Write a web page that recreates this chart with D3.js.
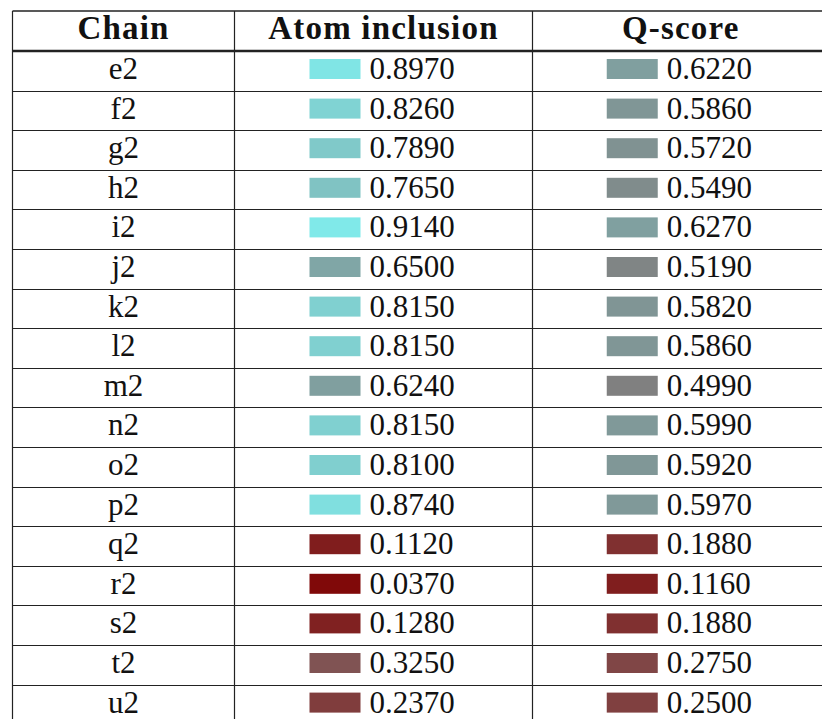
<!DOCTYPE html>
<html>
<head>
<meta charset="utf-8">
<script src="https://cdn.jsdelivr.net/npm/d3@7"></script>
<style>
  html, body { margin: 0; padding: 0; background: #fff; overflow: hidden; }
  svg text { font-family: "Liberation Serif", "DejaVu Serif", serif; fill: #111; }
</style>
</head>
<body>
<div id="chart"></div>
<script>
const chains = ["e2", "f2", "g2", "h2", "i2", "j2", "k2", "l2", "m2", "n2", "o2", "p2", "q2", "r2", "s2", "t2", "u2"];
const atomInclusion = [0.897, 0.826, 0.789, 0.765, 0.914, 0.650, 0.815, 0.815, 0.624, 0.815, 0.810, 0.874, 0.112, 0.037, 0.128, 0.325, 0.237];
const qScore = [0.622, 0.586, 0.572, 0.549, 0.627, 0.519, 0.582, 0.586, 0.499, 0.599, 0.592, 0.597, 0.188, 0.116, 0.188, 0.275, 0.250];
const headers = ["Chain", "Atom inclusion", "Q-score"];

const width = 822, height = 719;
const rowH = 39.6;
const headTop = 11, headBottom = 51;
const colEdges = [12.5, 234.5, 532.5, 829];

const rows = chains.map((c, i) => ({ chain: c, atom: atomInclusion[i], q: qScore[i] }));

const svg = d3.select("#chart").append("svg")
    .attr("width", width)
    .attr("height", height);

// rows
const y = d3.scaleBand()
    .domain(chains)
    .range([headBottom, headBottom + chains.length * rowH])
    .padding(0);

// column centres
const colX = d3.scaleOrdinal()
    .domain(headers)
    .range(headers.map((h, i) => (colEdges[i] + colEdges[i + 1]) / 2));

// maroon -> grey -> cyan
const color = d3.scaleLinear()
    .domain([0, 0.5, 1])
    .range(["#800000", "#808080", "#80ffff"]);

// header labels
svg.selectAll(".head")
    .data(headers)
    .enter()
    .append("text")
    .attr("class", "head")
    .attr("x", d => colX(d))
    .attr("y", 39)
    .attr("text-anchor", "middle")
    .style("font-size", "33px")
    .style("font-weight", "bold")
    .style("letter-spacing", "1.2px")
    .text(d => d);

// chain names
svg.selectAll(".chain")
    .data(rows)
    .enter()
    .append("text")
    .attr("class", "chain")
    .attr("x", colX("Chain"))
    .attr("y", d => y(d.chain) + 28)
    .attr("text-anchor", "middle")
    .style("font-size", "31px")
    .text(d => d.chain);

// swatch + value cells
const swW = 51, swH = 20, gap = 9;
[["Atom inclusion", "atom"], ["Q-score", "q"]].forEach(([col, key]) => {
    const left = colX(col) - 74;
    const g = svg.append("g");
    g.selectAll("rect")
        .data(rows)
        .enter()
        .append("rect")
        .attr("x", left)
        .attr("y", d => y(d.chain) + 28 - swH)
        .attr("width", swW)
        .attr("height", swH)
        .attr("fill", d => color(d[key]));
    g.selectAll("text")
        .data(rows)
        .enter()
        .append("text")
        .attr("x", left + swW + gap)
        .attr("y", d => y(d.chain) + 28)
        .style("font-size", "31px")
        .text(d => d[key].toFixed(4));
});

// rules
const lines = svg.append("g").attr("stroke", "#222");
lines.append("line")
    .attr("x1", colEdges[0]).attr("x2", width)
    .attr("y1", headTop).attr("y2", headTop)
    .attr("stroke-width", 1.4);
lines.append("line")
    .attr("x1", colEdges[0]).attr("x2", width)
    .attr("y1", headBottom).attr("y2", headBottom)
    .attr("stroke-width", 2.4);
lines.selectAll(".hrow")
    .data(chains.slice(1))
    .enter()
    .append("line")
    .attr("x1", colEdges[0]).attr("x2", width)
    .attr("y1", d => Math.round(y(d)) + 0.5)
    .attr("y2", d => Math.round(y(d)) + 0.5)
    .attr("stroke-width", 1.2);
lines.selectAll(".vcol")
    .data(colEdges)
    .enter()
    .append("line")
    .attr("x1", d => d).attr("x2", d => d)
    .attr("y1", headTop).attr("y2", height)
    .attr("stroke-width", 1.2);
</script>
</body>
</html>
